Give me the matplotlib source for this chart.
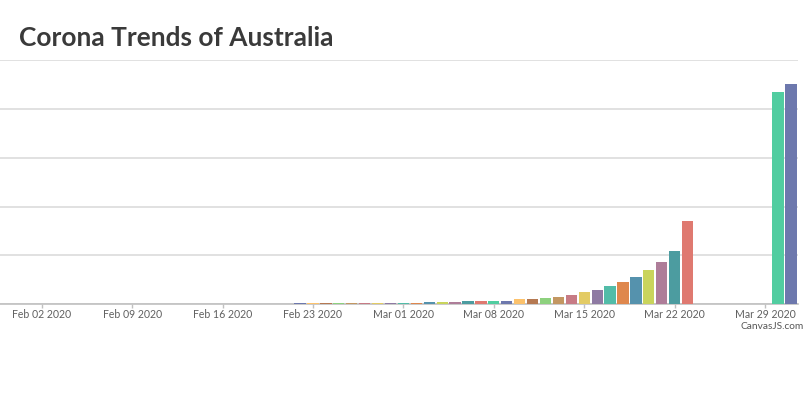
import pandas as pd
import matplotlib
matplotlib.use("Agg")
import matplotlib.pyplot as plt
import matplotlib.dates as mdates

# daily confirmed cases, Jan 30 .. Mar 23, then Mar 30 and Mar 31
dates = list(pd.date_range("2020-01-30", "2020-03-23")) + [pd.Timestamp("2020-03-30"), pd.Timestamp("2020-03-31")]
cases = [9, 9,
         12, 12, 12, 13, 13, 14, 15, 15, 15, 15,
         15, 15, 15, 15, 15, 15, 15, 15, 15, 15,
         15, 22, 22, 22, 22, 22, 23, 23, 25,
         27, 33, 41, 47, 53, 61, 67, 74, 77, 102, 108, 122, 156, 196,
         251, 299, 377, 456, 565, 708, 871, 1096, 1703,
         4348, 4505]

# canvasjs light2 colour set
palette = ["#6D78AD", "#51CDA0", "#DF7970", "#4C9CA0", "#AE7D99", "#C9D45C",
           "#5592AD", "#DF874D", "#52BCA8", "#8E7AA3", "#E3CB64", "#C77B85",
           "#C39762", "#8DD17E", "#B57952", "#FCC26C"]
# the source fed points newest first, so the colours count back from the last day
colors = [palette[i % len(palette)] for i in range(len(dates))][::-1]

fig = plt.figure(figsize=(8.06, 4.03), dpi=100)
ax = fig.add_axes([0, 1 - 304.3 / 403, 798 / 806, (304.3 - 60) / 403])

ax.bar(dates, cases, width=0.87, color=colors, zorder=3)

ax.set_ylim(0, 5000)
ax.set_yticks(range(0, 5001, 1000))
ax.yaxis.grid(True, color="#dcdcdc", lw=1.2)
ax.set_axisbelow(True)
ax.tick_params(axis="y", length=0, labelleft=False)

ax.set_xlim(pd.Timestamp("2020-01-29 18:30"), pd.Timestamp("2020-03-31 13:10"))
ax.xaxis.set_major_locator(mdates.WeekdayLocator(byweekday=mdates.SU))
ax.xaxis.set_major_formatter(mdates.DateFormatter("%b %d %Y"))
ax.tick_params(axis="x", colors="#c0c0c0", length=3, width=1,
               labelcolor="#606060", labelsize=7.6, pad=0.5)
for lab in ax.get_xticklabels():
    lab.set_family("Lato")

for s in ["top", "right", "left"]:
    ax.spines[s].set_visible(False)
ax.spines["bottom"].set_color("#c0c0c0")
ax.spines["bottom"].set_linewidth(1.2)

fig.text(19 / 806, 1 - 46 / 403, "Corona Trends of Australia", family="Lato",
         fontweight="bold", fontsize=18.9, color="#3a3a3a", va="baseline", ha="left")
fig.text(804 / 806, 1 - 326.5 / 403, "CanvasJS.com", family="Lato",
         fontsize=7.3, color="#555555", ha="right", va="center")

fig.savefig("out.png", dpi=100)
